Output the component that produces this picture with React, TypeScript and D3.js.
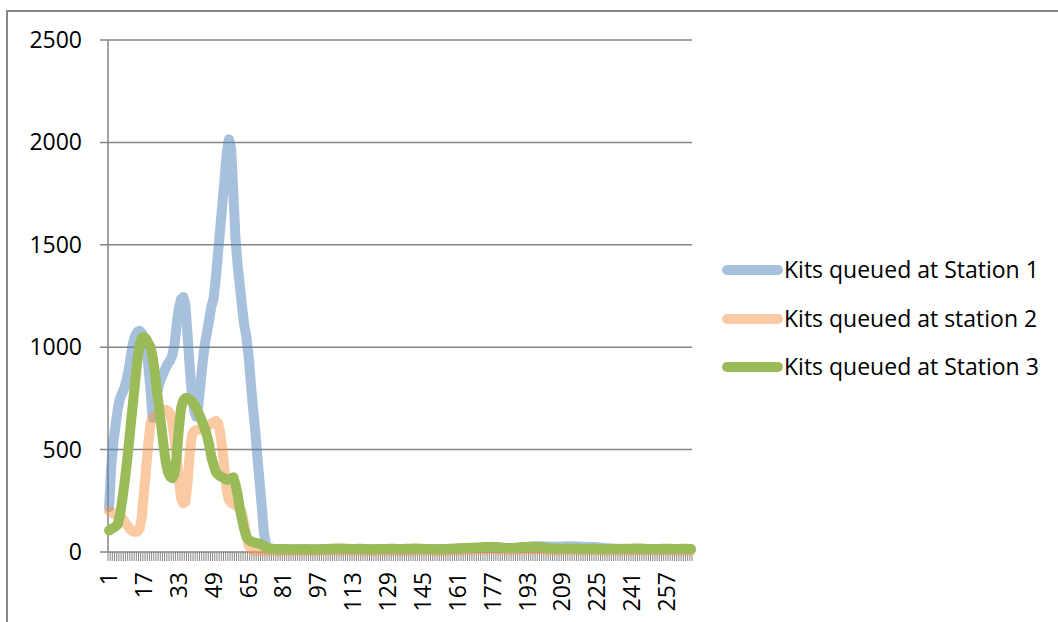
import React from "react";
import * as d3 from "d3";

const station1: number[] = [
  220, 420, 540, 620, 700, 750, 775, 800, 840, 890,
  960, 1020, 1055, 1075, 1080, 1070, 1040, 990, 910, 790,
  655, 715, 775, 820, 850, 875, 900, 920, 935, 960,
  1010, 1110, 1190, 1235, 1245, 1210, 1060, 900, 770, 690,
  660, 720, 830, 930, 1020, 1075, 1140, 1200, 1240, 1340,
  1460, 1580, 1700, 1820, 1950, 2015, 1970, 1760, 1530, 1400,
  1300, 1200, 1110, 1050, 960, 830, 710, 600, 470, 350,
  230, 100, 35, 18, 15,
  14, 13, 13, 12, 12, 12, 13, 13, 12, 12, 12, 12, 13, 13, 13, 12, 12, 12, 12, 12,
  12, 12, 13, 13, 13, 14, 14, 14, 14, 15, 15, 15, 15, 15, 14, 14, 14, 14, 14, 14,
  14, 14, 13, 13, 13, 13, 13, 13, 13, 14, 14, 14, 14, 14, 14, 14, 14, 13, 13, 13,
  13, 14, 14, 14, 14, 15, 15, 15, 14, 14, 14, 13, 13, 13, 13, 13, 13, 13, 13, 13,
  14, 14, 14, 15, 15, 16, 16, 17, 17, 18, 18, 19, 19, 20, 20, 20, 21, 21, 22, 22,
  22, 23, 22, 22, 21, 20, 20, 19, 19, 19, 19, 20, 20, 21, 22, 23, 24, 25, 26, 27,
  27, 28, 28, 28, 28, 27, 27, 26, 26, 26, 26, 26, 27, 27, 27, 28, 28, 28, 28, 27,
  27, 27, 26, 26, 25, 25, 25, 24, 24, 23, 22, 21, 20, 19, 18, 17, 17, 16, 16, 16,
  15, 15, 15, 15, 15, 15, 15, 15, 15, 15, 15, 14, 14, 14, 14, 14, 14, 14, 14, 14,
  14, 14, 14, 14, 14, 13, 13, 13, 13, 13, 13, 13, 13,
];

const station2: number[] = [
  200, 195, 187, 181, 178, 175, 165, 150, 135, 120,
  108, 100, 98, 100, 115, 170, 290, 410, 530, 630,
  655, 665, 670, 678, 685, 690, 695, 690, 675, 630,
  550, 465, 360, 265, 238, 245, 340, 480, 570, 590,
  595, 598, 600, 605, 610, 615, 620, 628, 635, 640,
  630, 580, 500, 400, 300, 255, 240, 235, 228, 222,
  215, 190, 140, 80, 35, 15, 8, 6, 6, 6,
  6, 6, 6, 6, 6,
  6, 6, 5, 5, 5, 6, 6, 6, 5, 5, 5, 5, 6, 6, 6, 6, 5, 5, 5, 5,
  5, 6, 6, 6, 6, 6, 7, 7, 7, 7, 7, 6, 6, 6, 6, 6, 6, 6, 6, 6,
  6, 6, 6, 5, 5, 5, 5, 5, 6, 6, 6, 6, 6, 6, 6, 6, 6, 6, 5, 5,
  5, 5, 6, 6, 6, 6, 6, 7, 7, 7, 6, 6, 6, 6, 6, 5, 5, 5, 5, 5,
  6, 6, 6, 7, 7, 7, 8, 8, 8, 9, 9, 10, 10, 10, 11, 11, 12, 12, 12, 13,
  13, 13, 12, 12, 11, 11, 10, 10, 10, 10, 10, 11, 11, 12, 12, 13, 13, 13, 14, 14,
  14, 14, 13, 13, 12, 11, 10, 10, 9, 9, 9, 9, 9, 9, 9, 10, 10, 10, 9, 9,
  9, 9, 9, 8, 8, 8, 8, 8, 8, 8, 8, 7, 7, 7, 7, 7, 7, 7, 7, 7,
  7, 7, 7, 7, 7, 7, 8, 8, 8, 8, 8, 7, 7, 7, 7, 7, 7, 7, 7, 7,
  7, 7, 7, 7, 7, 7, 6, 6, 6, 6, 6, 6, 6,
];

const station3: number[] = [
  105, 112, 118, 125, 135, 180, 250, 330, 420, 520,
  630, 730, 840, 940, 1010, 1045, 1050, 1040, 1020, 1000,
  950, 875, 780, 700, 610, 520, 440, 390, 368, 360,
  380, 465, 600, 700, 740, 752, 750, 745, 735, 720,
  705, 680, 655, 628, 600, 565, 520, 460, 425, 390,
  378, 370, 365, 358, 352, 355, 360, 365, 330, 280,
  210, 160, 110, 75, 60, 52, 48, 45, 43, 41,
  36, 30, 24, 20, 18,
  16, 15, 15, 14, 14, 15, 15, 14, 14, 14, 13, 13, 14, 14, 15, 15, 14, 14, 13, 13,
  13, 14, 14, 15, 15, 15, 16, 16, 16, 17, 17, 17, 17, 16, 16, 16, 15, 15, 15, 16,
  16, 16, 15, 15, 14, 14, 14, 14, 15, 15, 15, 15, 15, 16, 16, 16, 16, 15, 15, 15,
  15, 16, 16, 16, 17, 17, 17, 16, 16, 16, 15, 15, 15, 15, 15, 14, 14, 14, 15, 15,
  15, 16, 16, 17, 17, 18, 18, 19, 19, 20, 20, 21, 21, 22, 22, 22, 23, 24, 24, 25,
  25, 26, 25, 24, 23, 22, 21, 20, 20, 19, 19, 20, 21, 22, 23, 24, 25, 25, 26, 26,
  26, 26, 25, 24, 22, 20, 19, 18, 17, 17, 16, 16, 16, 16, 16, 17, 17, 17, 16, 16,
  16, 16, 15, 15, 15, 15, 16, 16, 16, 15, 15, 15, 14, 14, 14, 14, 15, 15, 15, 15,
  15, 16, 16, 16, 16, 16, 17, 17, 17, 17, 16, 16, 15, 15, 15, 15, 15, 15, 15, 16,
  16, 16, 16, 16, 15, 15, 15, 15, 16, 16, 16, 15, 15,
];

const seriesNames = [
  "Kits queued at Station 1",
  "Kits queued at station 2",
  "Kits queued at Station 3",
];
const seriesColors = ["#4F81BD", "#F79646", "#9BBB59"];
const seriesOpacity = [0.5, 0.5, 1];
const yTicks = [0, 500, 1000, 1500, 2000, 2500];

const N = Math.min(station1.length, station2.length, station3.length);
const categories: number[] = d3.range(1, N + 1);
const xTickLabels = categories.filter((c) => (c - 1) % 16 === 0);

const FONT = "'Open Sans', 'Noto Sans', sans-serif";
const FS = 23;

export default function App() {
  const W = 1058;
  const H = 622;
  const left = 108;
  const right = 692;
  const top = 40;
  const bottom = 552;

  const x = d3
    .scaleBand<number>()
    .domain(categories)
    .range([left, right])
    .paddingInner(0)
    .paddingOuter(0);
  const bw = x.bandwidth();
  const cx = (c: number) => (x(c) as number) + bw / 2;
  const y = d3.scaleLinear().domain([0, 2500]).range([bottom, top]);

  const all = [station1, station2, station3];
  const line = d3
    .line<number>()
    .x((_, i) => cx(categories[i]))
    .y((v) => y(v));

  const gridColor = "#868686";
  const boundaries = d3.range(0, N + 1);

  const legendY = [270, 319, 367];

  return (
    <svg
      width={W}
      height={H}
      style={{ position: "absolute", left: 0, top: 0, background: "#fff" }}
      fontFamily={FONT}
    >
      <rect x={0} y={0} width={W} height={H} fill="#fff" />
      <path
        d={`M7,${H + 5} L7,11 L${W + 5},11`}
        fill="none"
        stroke={gridColor}
        strokeWidth={2}
      />
      {yTicks.map((t) => (
        <line
          key={"g" + t}
          x1={left - 8}
          x2={right}
          y1={y(t)}
          y2={y(t)}
          stroke={gridColor}
          strokeWidth={1.5}
        />
      ))}
      <line x1={left} x2={left} y1={top} y2={bottom} stroke={gridColor} strokeWidth={1.5} />
      {boundaries.map((k) => (
        <line
          key={"t" + k}
          x1={left + k * bw}
          x2={left + k * bw}
          y1={bottom}
          y2={bottom + 9}
          stroke={gridColor}
          strokeWidth={1}
        />
      ))}
      {yTicks.map((t) => (
        <text
          key={"yl" + t}
          x={82}
          y={y(t)}
          dy="0.35em"
          textAnchor="end"
          fontSize={FS}
          fill="#000"
        >
          {t}
        </text>
      ))}
      {xTickLabels.map((c) => (
        <text
          key={"xl" + c}
          transform={`translate(${cx(c)},${572}) rotate(-90)`}
          dy="0.35em"
          textAnchor="end"
          fontSize={FS}
          fill="#000"
        >
          {c}
        </text>
      ))}
      {all.map((s, i) => (
        <path
          key={"s" + i}
          d={line(s.slice(0, N)) || ""}
          fill="none"
          stroke={seriesColors[i]}
          strokeOpacity={seriesOpacity[i]}
          strokeWidth={10}
          strokeLinejoin="round"
          strokeLinecap="round"
        />
      ))}
      {seriesNames.map((n, i) => (
        <g key={"lg" + i}>
          <line
            x1={727}
            x2={778}
            y1={legendY[i]}
            y2={legendY[i]}
            stroke={seriesColors[i]}
            strokeOpacity={seriesOpacity[i]}
            strokeWidth={10}
            strokeLinecap="round"
          />
          <text x={784} y={legendY[i]} dy="0.35em" fontSize={FS} fill="#000">
            {n}
          </text>
        </g>
      ))}
    </svg>
  );
}
